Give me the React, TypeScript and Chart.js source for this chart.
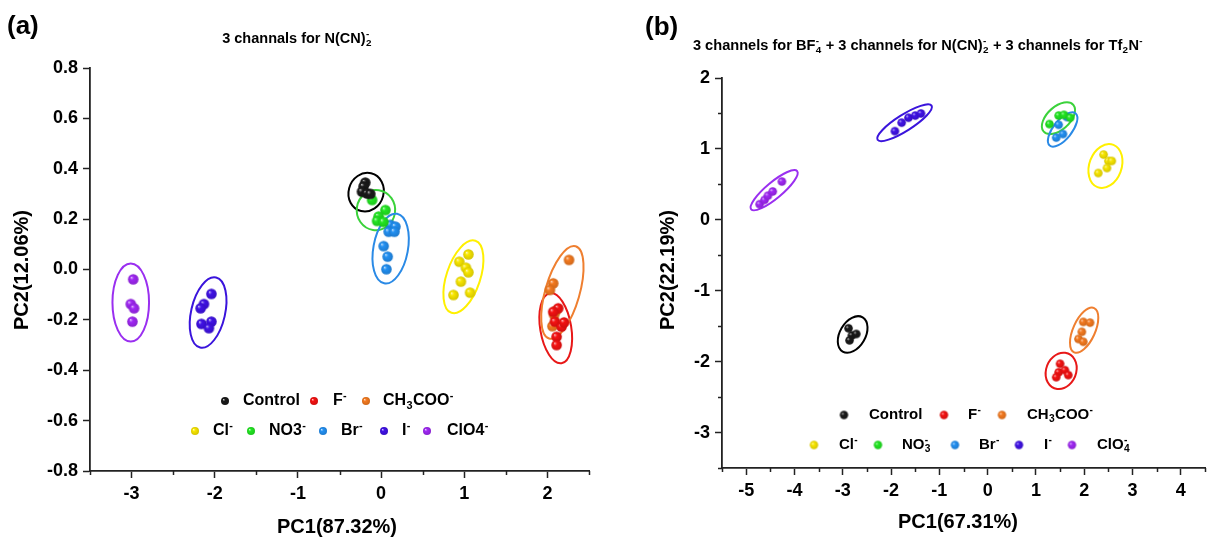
import React, { useEffect, useRef } from 'react';
import { Chart, registerables } from 'chart.js';

Chart.register(...registerables);

const FONT = "'Liberation Sans', Arial, Helvetica, sans-serif";

// ---------- shared series info ----------
const seriesNamesA = ['Control', 'F^-', 'CH_3COO^-', 'Cl^-', 'NO3^-', 'Br^-', 'I^-', 'ClO4^-'];
const seriesNamesB = ['Control', 'F^-', 'CH_3COO^-', 'Cl^-', 'NO_3^-', 'Br^-', 'I^-', 'ClO_4^-'];
const pointColors = ['#1a1a1a', '#f41212', '#f47a20', '#f8e600', '#22e622', '#2290f2', '#4012e6', '#a028f4'];
const ellipseColors = ['#000000', '#e81818', '#ef7f30', '#fff000', '#3bd23b', '#2a8ae6', '#3a14dc', '#9a2ff0'];

// ---------- panel (a): 3 channels for N(CN)2- ----------
const aControl = [[-0.19, 0.345], [-0.21, 0.33], [-0.23, 0.309], [-0.17, 0.302], [-0.13, 0.3]];
const aF = [[2.13, -0.154], [2.07, -0.168], [2.09, -0.207], [2.17, -0.227], [2.11, -0.267], [2.11, -0.3], [2.2, -0.21]];
const aCH3COO = [[2.26, 0.038], [2.07, -0.055], [2.03, -0.081], [2.1, -0.165], [2.08, -0.18], [2.06, -0.225]];
const aCl = [[1.05, 0.06], [0.94, 0.031], [1.02, 0.007], [1.05, -0.011], [0.96, -0.048], [0.87, -0.101], [1.07, -0.092]];
const aNO3 = [[-0.108, 0.276], [0.052, 0.236], [-0.03, 0.21], [-0.048, 0.193], [0.028, 0.189]];
const aBr = [[0.112, 0.177], [0.172, 0.17], [0.091, 0.15], [0.16, 0.15], [0.031, 0.093], [0.079, 0.051], [0.064, 0.001]];
const aI = [[-2.04, -0.097], [-2.13, -0.137], [-2.17, -0.154], [-2.16, -0.216], [-2.04, -0.207], [-2.07, -0.233]];
const aClO4 = [[-2.98, -0.039], [-3.01, -0.137], [-2.97, -0.154], [-2.99, -0.207]];
// confidence ellipses: centre and two conjugate semi-axis vectors (data units)
const aEllipseCenter = [[-0.18, 0.307], [2.1, -0.233], [2.18, -0.091], [0.99, -0.029], [-0.062, 0.236], [0.115, 0.083], [-2.08, -0.171], [-3.01, -0.131]];
const aEllipseU = [[0.06, 0.075], [-0.07, 0.139], [0.16, 0.183], [0.144, 0.143], [0.036, 0.079], [0.078, 0.138], [0.096, 0.139], [0.0, 0.155]];
const aEllipseV = [[0.204, -0.016], [0.184, 0.01], [0.198, -0.019], [0.193, -0.021], [0.228, -0.012], [0.204, -0.013], [0.199, -0.015], [0.22, 0.0]];
const aXTicks = [-3, -2, -1, 0, 1, 2];
const aYTicks = [-0.8, -0.6, -0.4, -0.2, 0, 0.2, 0.4, 0.6, 0.8];

// ---------- panel (b): 9 channels ----------
const bControl = [[-2.88, -1.53], [-2.81, -1.63], [-2.72, -1.61], [-2.86, -1.7]];
const bF = [[1.5, -2.03], [1.47, -2.15], [1.6, -2.12], [1.42, -2.22], [1.67, -2.19]];
const bCH3COO = [[1.98, -1.44], [2.12, -1.45], [1.95, -1.58], [1.88, -1.68], [1.98, -1.72]];
const bCl = [[2.4, 0.92], [2.5, 0.83], [2.57, 0.83], [2.47, 0.73], [2.29, 0.66]];
const bNO3 = [[1.28, 1.35], [1.47, 1.47], [1.58, 1.48], [1.71, 1.44]];
const bBr = [[1.47, 1.34], [1.64, 1.45], [1.56, 1.21], [1.42, 1.16]];
const bI = [[-1.92, 1.25], [-1.78, 1.37], [-1.64, 1.44], [-1.5, 1.47], [-1.38, 1.5]];
const bClO4 = [[-4.72, 0.22], [-4.62, 0.28], [-4.55, 0.34], [-4.45, 0.4], [-4.26, 0.54]];
const bEllipseCenter = [[-2.795, -1.617], [1.522, -2.13], [1.998, -1.557], [2.439, 0.759], [1.466, 1.433], [1.553, 1.274], [-1.72, 1.369], [-4.42, 0.418]];
const bEllipseU = [[0.207, 0.241], [0.083, 0.255], [0.207, 0.312], [0.166, 0.298], [0.311, 0.184], [0.269, 0.227], [0.559, 0.241], [0.476, 0.27]];
const bEllipseV = [[0.228, -0.092], [0.311, -0.028], [0.207, -0.064], [0.311, -0.085], [0.145, -0.128], [0.145, -0.085], [0.089, -0.096], [0.106, -0.088]];
const bXTicks = [-5, -4, -3, -2, -1, 0, 1, 2, 3, 4];
const bYTicks = [-3, -2, -1, 0, 1, 2];

// ---------- helpers ----------
function hexToRgb(h: string) {
  const n = parseInt(h.slice(1), 16);
  return [(n >> 16) & 255, (n >> 8) & 255, n & 255];
}
function mixColor(h: string, t: number, target: number) {
  const [r, g, b] = hexToRgb(h);
  const f = (c: number) => Math.round(c + (target - c) * t);
  return `rgb(${f(r)},${f(g)},${f(b)})`;
}
function makeBall(color: string, r: number) {
  const size = Math.ceil(r * 2) + 2;
  const c = document.createElement('canvas');
  c.width = size;
  c.height = size;
  const g = c.getContext('2d')!;
  const cx = size / 2, cy = size / 2;
  const grad = g.createRadialGradient(cx - r * 0.38, cy - r * 0.38, 0, cx, cy, r);
  grad.addColorStop(0, mixColor(color, 0.75, 255));
  grad.addColorStop(0.35, color);
  grad.addColorStop(1, mixColor(color, 0.15, 0));
  g.fillStyle = grad;
  g.beginPath();
  g.arc(cx, cy, r, 0, Math.PI * 2);
  g.fill();
  return c;
}

type Seg = { t: string; k: 'n' | 'sub' | 'sup' };
function parseRich(s: string): Seg[] {
  const out: Seg[] = [];
  let buf = '';
  for (let i = 0; i < s.length; i++) {
    const ch = s[i];
    if ((ch === '_' || ch === '^') && i + 1 < s.length) {
      if (buf) { out.push({ t: buf, k: 'n' }); buf = ''; }
      out.push({ t: s[i + 1], k: ch === '_' ? 'sub' : 'sup' });
      i++;
    } else buf += ch;
  }
  if (buf) out.push({ t: buf, k: 'n' });
  return out;
}
function drawRich(ctx: CanvasRenderingContext2D, text: string, x: number, y: number, size: number, align: 'left' | 'center') {
  const segs = parseRich(text);
  const items: any[] = [];
  let cur = 0;
  for (let i = 0; i < segs.length; i++) {
    const s = segs[i];
    const fs = s.k === 'n' ? size : size * 0.68;
    ctx.font = `bold ${fs}px ${FONT}`;
    const w = ctx.measureText(s.t).width;
    const dy = s.k === 'sub' ? size * 0.3 : s.k === 'sup' ? -size * 0.34 : 0;
    if (s.k === 'sup' && i > 0 && segs[i - 1].k === 'sub') {
      const prev = items[items.length - 1];
      items.push({ ...s, fs, dx: prev.dx, dy, w });
      cur = Math.max(prev.dx + prev.w, prev.dx + w) + size * 0.03;
    } else {
      items.push({ ...s, fs, dx: cur + (s.k === 'n' ? 0 : size * 0.02), dy, w });
      cur += w + (s.k === 'n' ? 0 : size * 0.05);
    }
  }
  const x0 = align === 'center' ? x - cur / 2 : x;
  ctx.textAlign = 'left';
  ctx.textBaseline = 'middle';
  ctx.fillStyle = '#000';
  for (const it of items) {
    ctx.font = `bold ${it.fs}px ${FONT}`;
    ctx.fillText(it.t, x0 + it.dx, y + it.dy);
  }
}

type Panel = {
  width: number; height: number;
  area: { left: number; top: number; right: number; bottom: number };
  xMin: number; xMax: number; yMin: number; yMax: number;
  xTicks: number[]; yTicks: number[]; yDecimals: number;
  xMinor: boolean; yMinor: boolean;
  series: number[][][]; names: string[];
  centers: number[][]; us: number[][]; vs: number[][];
  ballR: number; legendBallR: number; legendFont: number;
  legendRowY: number[]; legendRow: number[]; legendDot: number[]; legendText: number[];
  tag: string; tagPos: number[];
  title: string; titlePos: number[]; titleSize: number;
  xTitle: string; xTitlePos: number[];
  yTitle: string; yTitlePos: number[];
};

const panelA: Panel = {
  width: 614, height: 539,
  area: { left: 90, top: 68, right: 589, bottom: 471 },
  xMin: -3.5, xMax: 2.5, yMin: -0.8, yMax: 0.8,
  xTicks: aXTicks, yTicks: aYTicks, yDecimals: 1,
  xMinor: true, yMinor: false,
  series: [aControl, aF, aCH3COO, aCl, aNO3, aBr, aI, aClO4], names: seriesNamesA,
  centers: aEllipseCenter, us: aEllipseU, vs: aEllipseV,
  ballR: 5.3, legendBallR: 4, legendFont: 16,
  legendRowY: [333, 363],
  legendRow: [0, 0, 0, 1, 1, 1, 1, 1],
  legendDot: [135, 224, 276, 105, 161, 233, 294, 337],
  legendText: [153, 243, 293, 123, 179, 251, 312, 357],
  tag: '(a)', tagPos: [7, 27],
  title: '3 channals for N(CN)_2^-', titlePos: [297, 39], titleSize: 14.5,
  xTitle: 'PC1(87.32%)', xTitlePos: [337, 527],
  yTitle: 'PC2(12.06%)', yTitlePos: [22, 270],
};

const panelB: Panel = {
  width: 614, height: 539,
  area: { left: 108, top: 78, right: 591, bottom: 468 },
  xMin: -5.5, xMax: 4.5, yMin: -3.5, yMax: 2,
  xTicks: bXTicks, yTicks: bYTicks, yDecimals: 0,
  xMinor: true, yMinor: true,
  series: [bControl, bF, bCH3COO, bCl, bNO3, bBr, bI, bClO4], names: seriesNamesB,
  centers: bEllipseCenter, us: bEllipseU, vs: bEllipseV,
  ballR: 4.3, legendBallR: 4.2, legendFont: 15,
  legendRowY: [337, 367],
  legendRow: [0, 0, 0, 1, 1, 1, 1, 1],
  legendDot: [122, 222, 280, 92, 156, 233, 297, 350],
  legendText: [147, 246, 305, 117, 180, 257, 322, 375],
  tag: '(b)', tagPos: [31, 28],
  title: '3 channels for BF_4^- + 3 channels for N(CN)_2^- + 3 channels for Tf_2N^-', titlePos: [304, 46], titleSize: 14.6,
  xTitle: 'PC1(67.31%)', xTitlePos: [344, 522],
  yTitle: 'PC2(22.19%)', yTitlePos: [54, 270],
};

function minorValues(ticks: number[], min: number, max: number) {
  const step = ticks[1] - ticks[0];
  const out: number[] = [];
  for (let v = ticks[0] - step / 2; v <= max + 1e-9; v += step) {
    if (v >= min - 1e-9) out.push(v);
  }
  return out;
}

function makePlugin(p: Panel, legendBalls: HTMLCanvasElement[]) {
  return {
    id: 'pcaExtras',
    beforeDatasetsDraw(chart: any) {
      const { ctx } = chart;
      const xs = chart.scales.x, ys = chart.scales.y;
      ctx.save();
      p.centers.forEach((c, i) => {
        const cx = xs.getPixelForValue(c[0]);
        const cy = ys.getPixelForValue(c[1]);
        const u = p.us[i], v = p.vs[i];
        const ux = xs.getPixelForValue(c[0] + u[0]) - cx;
        const uy = ys.getPixelForValue(c[1] + u[1]) - cy;
        const vx = xs.getPixelForValue(c[0] + v[0]) - cx;
        const vy = ys.getPixelForValue(c[1] + v[1]) - cy;
        ctx.save();
        ctx.beginPath();
        ctx.transform(ux, uy, vx, vy, cx, cy);
        ctx.arc(0, 0, 1, 0, Math.PI * 2);
        ctx.restore();
        ctx.lineWidth = 2;
        ctx.strokeStyle = ellipseColors[i];
        ctx.stroke();
      });
      ctx.restore();
    },
    afterDraw(chart: any) {
      const { ctx, chartArea } = chart;
      const xs = chart.scales.x, ys = chart.scales.y;
      ctx.save();
      // minor ticks
      ctx.strokeStyle = '#222';
      ctx.lineWidth = 1.5;
      if (p.xMinor) {
        for (const v of minorValues(p.xTicks, p.xMin, p.xMax)) {
          const px = Math.round(xs.getPixelForValue(v)) + 0.5;
          ctx.beginPath();
          ctx.moveTo(px, chartArea.bottom);
          ctx.lineTo(px, chartArea.bottom + 4);
          ctx.stroke();
        }
      }
      if (p.yMinor) {
        for (const v of minorValues(p.yTicks, p.yMin, p.yMax)) {
          const py = Math.round(ys.getPixelForValue(v)) + 0.5;
          ctx.beginPath();
          ctx.moveTo(chartArea.left, py);
          ctx.lineTo(chartArea.left - 4, py);
          ctx.stroke();
        }
      }
      // legend
      p.names.forEach((name, i) => {
        const y = chartArea.top + p.legendRowY[p.legendRow[i]];
        const dx = chartArea.left + p.legendDot[i];
        const img = legendBalls[i];
        ctx.drawImage(img, dx - img.width / 2, y - img.height / 2);
        drawRich(ctx, name, chartArea.left + p.legendText[i], y, p.legendFont, 'left');
      });
      // texts
      ctx.font = `bold 26px ${FONT}`;
      ctx.fillStyle = '#000';
      ctx.textAlign = 'left';
      ctx.textBaseline = 'middle';
      ctx.fillText(p.tag, p.tagPos[0], p.tagPos[1]);
      drawRich(ctx, p.title, p.titlePos[0], p.titlePos[1], p.titleSize, 'center');
      drawRich(ctx, p.xTitle, p.xTitlePos[0], p.xTitlePos[1], 20, 'center');
      ctx.save();
      ctx.translate(p.yTitlePos[0], p.yTitlePos[1]);
      ctx.rotate(-Math.PI / 2);
      drawRich(ctx, p.yTitle, 0, 0, 20, 'center');
      ctx.restore();
      ctx.restore();
    },
  };
}

function buildConfig(p: Panel): any {
  const balls = pointColors.map((c) => makeBall(c, p.ballR));
  const legendBalls = pointColors.map((c) => makeBall(c, p.legendBallR));
  const tickFont = { family: FONT, size: 18, weight: 'bold' as const };
  const grid = {
    display: true,
    drawOnChartArea: false,
    drawTicks: true,
    tickLength: 7,
    tickWidth: 1.5,
    tickColor: '#222',
    color: '#222',
  };
  const border = { display: true, color: '#222', width: 1.8 };
  return {
    type: 'scatter',
    data: {
      datasets: p.series.map((pts, i) => ({
        label: p.names[i],
        data: pts.map(([x, y]) => ({ x, y })),
        pointStyle: balls[i],
        pointRadius: p.ballR,
        pointHoverRadius: p.ballR,
        showLine: false,
      })),
    },
    options: {
      responsive: false,
      animation: false,
      devicePixelRatio: 1,
      events: [],
      layout: { padding: { top: p.area.top, right: p.width - p.area.right, left: 0, bottom: 0 } },
      plugins: { legend: { display: false }, tooltip: { enabled: false }, title: { display: false } },
      scales: {
        x: {
          type: 'linear',
          position: 'bottom',
          min: p.xMin,
          max: p.xMax,
          afterBuildTicks: (s: any) => { s.ticks = p.xTicks.map((v) => ({ value: v })); },
          afterFit: (s: any) => { s.height = p.height - p.area.bottom; },
          ticks: { font: tickFont, color: '#000', padding: 5, maxRotation: 0, autoSkip: false, callback: (v: any) => String(Number(v)) },
          grid,
          border,
        },
        y: {
          type: 'linear',
          position: 'left',
          min: p.yMin,
          max: p.yMax,
          afterBuildTicks: (s: any) => { s.ticks = p.yTicks.map((v) => ({ value: v })); },
          afterFit: (s: any) => { s.width = p.area.left; },
          ticks: { font: tickFont, color: '#000', padding: 5, autoSkip: false, callback: (v: any) => Number(v).toFixed(p.yDecimals) },
          grid,
          border,
        },
      },
    },
    plugins: [makePlugin(p, legendBalls)],
  };
}

function PanelChart({ p }: { p: Panel }) {
  const ref = useRef<HTMLCanvasElement>(null);
  useEffect(() => {
    const chart = new Chart(ref.current!, buildConfig(p));
    return () => chart.destroy();
  }, [p]);
  return <canvas ref={ref} width={p.width} height={p.height} style={{ display: 'block', width: p.width, height: p.height }} />;
}

export default function App() {
  return (
    <div style={{ position: 'absolute', left: 0, top: 0, width: 1228, height: 539, background: '#fff', display: 'flex' }}>
      <PanelChart p={panelA} />
      <PanelChart p={panelB} />
    </div>
  );
}
